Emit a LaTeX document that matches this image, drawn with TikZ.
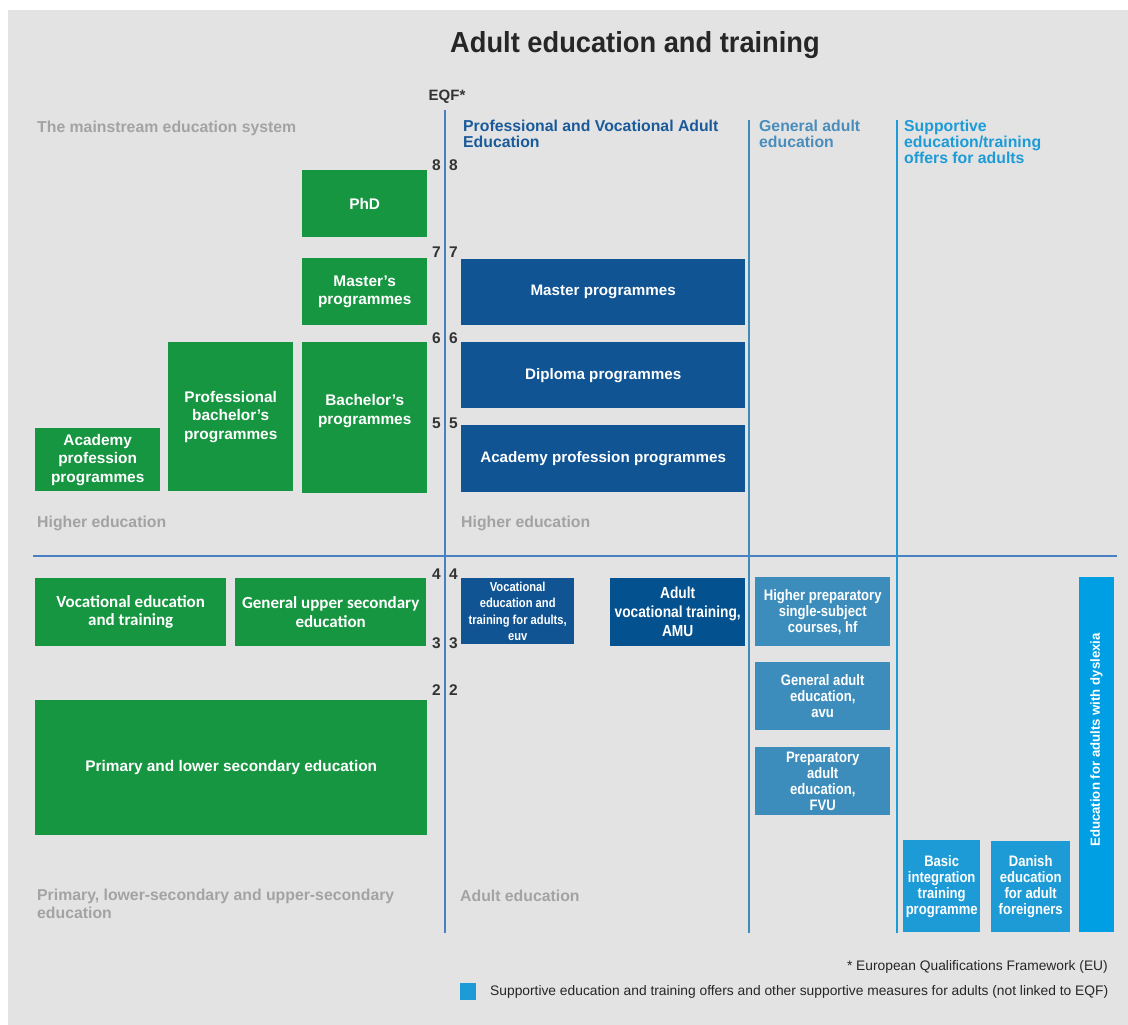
\documentclass[tikz,border=0pt]{standalone}
\usepackage{fontspec}
\setmainfont{Liberation Sans}
\newfontfamily\narrowfont[FakeStretch=0.86]{Liberation Sans}
\newfontfamily\titlefont[FakeStretch=0.94]{Liberation Sans}
\newfontfamily\calfont{Carlito}

\definecolor{pageGray}{HTML}{E3E3E3}
\definecolor{labelGray}{HTML}{A3A3A3}
\definecolor{eduGreen}{HTML}{169641}
\definecolor{profBlue}{HTML}{105494}
\definecolor{amuBlue}{HTML}{03518F}
\definecolor{genBlue}{HTML}{3D8DBC}
\definecolor{supBlue}{HTML}{1D9BD7}
\definecolor{dysBlue}{HTML}{009FE3}
\definecolor{axisBlue}{HTML}{4A7FC1}
\definecolor{profHead}{HTML}{1A5A9A}
\definecolor{genHead}{HTML}{4A8DBD}

\newcommand{\fsz}[2]{\fontsize{#1}{#2}\selectfont}

\begin{document}
\begin{tikzpicture}[x=1pt, y=-1pt,
  box/.style={anchor=north west, inner sep=0pt, align=center, text=white},
  greenbox/.style={box, fill=eduGreen, font=\fsz{15.4}{18.5}\bfseries},
  profbox/.style={box, fill=profBlue, font=\fsz{15.2}{18}\bfseries},
  genbox/.style={box, fill=genBlue, font=\narrowfont\fsz{15.2}{16}\bfseries},
  supbox/.style={box, fill=supBlue, font=\narrowfont\fsz{15.2}{16}\bfseries},
  heading/.style={anchor=north west, inner sep=0pt, align=left, font=\fsz{15.8}{16}\bfseries},
  graylabel/.style={heading, text=labelGray},
  eqf/.style={inner sep=0pt, font=\fsz{15.5}{15.5}\bfseries, text=black!80},
  axis/.style={draw=axisBlue, line width=2.2pt}]

% page and background
\useasboundingbox (0,0) rectangle (1128,1025);
\fill[white] (0,0) rectangle (1128,1025);
\fill[pageGray] (8,10) rectangle (1128,1025);

\node[font=\titlefont\fsz{29}{32}\bfseries, text=black!85] (title) at (635,45) {Adult education and training};

% axes
\coordinate (axtop) at (445,110);
\coordinate (axbot) at (445,933);
\draw[axis] (axtop) -- (axbot);
\draw[axis, line width=1.8pt] (33,556) -- (1117,556);
\draw[draw=genBlue, line width=1.1pt] (749,120) -- (749,933);
\draw[draw=supBlue, line width=1.3pt] (897,120) -- (897,933);

\node[eqf, font=\fsz{15}{15}\bfseries] (eqf) at (447,97) {EQF*};

% EQF levels on both sides of the axis
\foreach \lvl/\ypos in {8/165, 7/252, 6/338, 5/423, 4/574, 3/643, 2/690} {
  \node[eqf, anchor=east] (lvlL\lvl) at (441,\ypos) {\lvl};
  \node[eqf, anchor=west] (lvlR\lvl) at (449,\ypos) {\lvl};
}

% headings
\node[graylabel] (mainstream) at (37,121) {The mainstream education system};
\node[heading, text=profHead] (profhead) at (463,120) {Professional and Vocational Adult\\Education};
\node[heading, text=genHead] (genhead) at (759,120) {General adult\\education};
\node[heading, text=supBlue] (suphead) at (904,120) {Supportive\\education/training\\offers for adults};

\node[graylabel] (higherL) at (37,516) {Higher education};
\node[graylabel] (higherR) at (461,516) {Higher education};
\node[graylabel, font=\fsz{15.8}{18}\bfseries] (primlabel) at (37,889) {Primary, lower-secondary and upper-secondary\\education};
\node[graylabel] (adultlabel) at (460,890) {Adult education};

% mainstream system
\node[greenbox, minimum width=125pt, minimum height=67pt] (phd) at (302,170) {PhD};
\node[greenbox, minimum width=125pt, minimum height=67pt] (master) at (302,258) {Master’s\\programmes};
\node[greenbox, text depth=17pt, minimum width=125pt, minimum height=151pt] (bachelor) at (302,342) {Bachelor’s\\programmes};
\node[greenbox, minimum width=125pt, minimum height=149pt] (profbach) at (168,342) {Professional\\bachelor’s\\programmes};
\node[greenbox, minimum width=125pt, minimum height=63pt] (academy) at (35,428) {Academy\\profession\\programmes};
\node[greenbox, font=\calfont\fsz{17}{18.5}\bfseries, minimum width=191pt, minimum height=68pt] (vet) at (35,578) {Vocational education\\and training};
\node[greenbox, font=\calfont\fsz{17}{18.5}\bfseries, minimum width=191pt, minimum height=68pt] (gymn) at (235,578) {General upper secondary\\education};
\node[greenbox, minimum width=392pt, minimum height=135pt] (primary) at (35,700) {Primary and lower secondary education};

% professional and vocational adult education
\node[profbox, minimum width=284pt, minimum height=66pt] (pmaster) at (461,259) {Master programmes};
\node[profbox, minimum width=284pt, minimum height=66pt] (diploma) at (461,342) {Diploma programmes};
\node[profbox, minimum width=284pt, minimum height=67pt] (pacademy) at (461,425) {Academy profession programmes};
\node[profbox, font=\narrowfont\fsz{13}{16.5}\bfseries, minimum width=113pt, minimum height=66pt] (euv) at (461,578) {Vocational\\education and\\training for adults,\\euv};
\node[box, fill=amuBlue, font=\narrowfont\fsz{16}{19}\bfseries, minimum width=135pt, minimum height=68pt] (amu) at (610,578) {Adult\\vocational training,\\AMU};

% general adult education
\node[genbox, minimum width=135pt, minimum height=69pt] (hf) at (755,577) {Higher preparatory\\single-subject\\courses, hf};
\node[genbox, minimum width=135pt, minimum height=68pt] (avu) at (755,662) {General adult\\education,\\avu};
\node[genbox, minimum width=135pt, minimum height=68pt] (fvu) at (755,747) {Preparatory\\adult\\education,\\FVU};

% supportive offers
\node[supbox, minimum width=77pt, minimum height=92pt] (integration) at (903,840) {Basic\\integration\\training\\programme};
\node[supbox, minimum width=79pt, minimum height=91pt] (danish) at (991,841) {Danish\\education\\for adult\\foreigners};
\node[box, fill=dysBlue, minimum width=35pt, minimum height=355pt] (dyslexia) at (1079,577) {};
\node[rotate=90, text=white, font=\fsz{13.2}{13}\bfseries] (dystext) at (1096.5,740) {Education for adults with dyslexia};

% footnote and legend
\node[anchor=east, inner sep=0pt, font=\fsz{13.8}{14}, text=black!85] (footnote) at (1108,967) {* European Qualifications Framework (EU)};
\node[anchor=north west, inner sep=0pt, fill=supBlue, minimum width=16pt, minimum height=17pt] (legendkey) at (460,983) {};
\node[anchor=west, inner sep=0pt, font=\fsz{13.8}{14}, text=black!85] (legendtext) at (490,992) {Supportive education and training offers and other supportive measures for adults (not linked to EQF)};
\end{tikzpicture}
\end{document}
